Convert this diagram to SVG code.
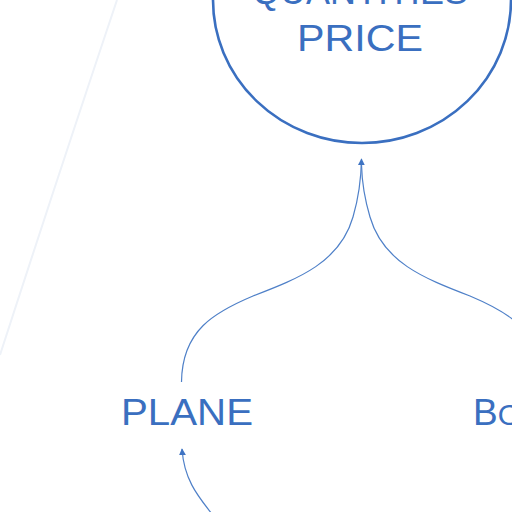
<svg xmlns="http://www.w3.org/2000/svg" width="512" height="512" viewBox="0 0 512 512">
  <style>
    .lbl { font-family: "Liberation Sans", "DejaVu Sans", sans-serif; font-size: 37px; fill: #3a6fc0; text-anchor: start; }
    .node { fill: none; stroke: #3a6fc0; stroke-width: 2.6; }
    .edge { fill: none; stroke: #4f80c8; stroke-width: 1.2; }
  </style>
  <defs>
    <marker id="arr" viewBox="0 0 10 10" refX="9" refY="5" markerWidth="7" markerHeight="7" orient="auto" markerUnits="userSpaceOnUse">
      <path d="M0,0 L10,5 L0,10 z" fill="#3f74c3"/>
    </marker>
  </defs>
  <rect width="512" height="512" fill="#ffffff"/>
  <path d="M117,0 Q60,170 0,355" fill="none" stroke="#eef2f8" stroke-width="2"/>
  <g id="connectors">
    <path class="edge" d="M181.5,382 C182,330 215,312 253,296 C300,278 340,262 353,217 C358,200 361,185 361.5,159" marker-end="url(#arr)"/>
    <path class="edge" d="M541.5,382 C541,330 508,312 470,296 C423,278 383,262 370,217 C365,200 362,185 361.5,165"/>
    <path class="edge" d="M212,514 C196,494 184,478 182,449" marker-end="url(#arr)"/>
  </g>
  <g id="node-quantities-price">
    <ellipse class="node" cx="362" cy="0" rx="149" ry="143"/>
    <text class="lbl" x="252" y="4" textLength="216" lengthAdjust="spacingAndGlyphs">QUANTITIES</text>
    <text class="lbl" x="297" y="51" textLength="126" lengthAdjust="spacingAndGlyphs">PRICE</text>
  </g>
  <g id="node-plane">
    <text class="lbl" x="121" y="425" textLength="132" lengthAdjust="spacingAndGlyphs">PLANE</text>
  </g>
  <g id="node-boat">
    <text class="lbl" x="473" y="425">B<tspan font-size="30">OAT</tspan></text>
  </g>
</svg>
